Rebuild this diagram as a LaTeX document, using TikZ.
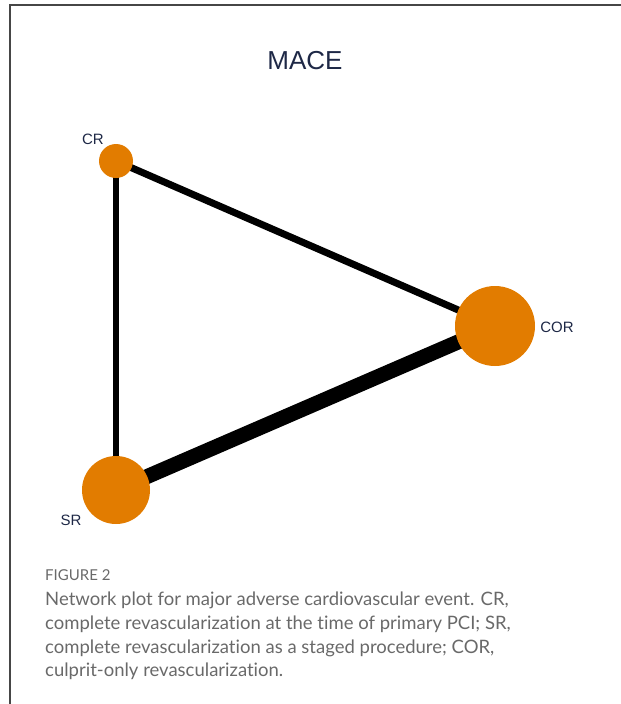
\documentclass[tikz,border=0pt]{standalone}
\usepackage{fontspec}
\setmainfont{Liberation Sans}
\newfontfamily\capfont[Ligatures=NoCommon]{Lato}
\usetikzlibrary{backgrounds}
\definecolor{nodeorange}{RGB}{226,124,0}
\definecolor{navy}{RGB}{30,40,70}
\definecolor{capgray}{RGB}{105,105,105}
\definecolor{framegray}{RGB}{70,70,70}
\begin{document}
\begin{tikzpicture}[x=1pt,y=-1pt,
  trt/.style={circle,fill=nodeorange,draw=none,inner sep=0pt,minimum size=#1},
  lbl/.style={text=navy,font=\fontsize{15}{15}\selectfont,inner sep=0pt},
  edge/.style={black,line width=#1,line cap=butt},
  capline/.style={anchor=base west,inner sep=0pt,text=capgray,font=\capfont\fontsize{18.5}{24}\selectfont}
]
\useasboundingbox (0,0) rectangle (621,704);
\draw[framegray,line width=1.5pt] (10,704) -- (10,5) -- (621,5);

\node[text=navy,font=\fontsize{26}{26}\selectfont,inner sep=0pt] (title) at (305,61) {MACE};

\node[trt=34pt] (cr) at (116,161) {};
\node[trt=68pt] (sr) at (116,490) {};
\node[trt=80pt] (cor) at (495,326) {};

\begin{scope}[on background layer]
\draw[edge=6pt] (cr.center) -- (sr.center);
\draw[edge=7pt] (cr.center) -- (cor.center);
\draw[edge=15pt] (sr.center) -- (cor.center);
\end{scope}

\node[lbl] (crl) at (93,139) {CR};
\node[lbl] (srl) at (71,520) {SR};
\node[lbl] (corl) at (557,327) {COR};

\node[capline,font=\capfont\fontsize{15}{15}\selectfont] (fig) at (45,580) {FIGURE 2};
\node[capline] (c1) at (45,605) {Network plot for major adverse cardiovascular event. CR,};
\node[capline] (c2) at (45,629) {complete revascularization at the time of primary PCI; SR,};
\node[capline] (c3) at (45,653) {complete revascularization as a staged procedure; COR,};
\node[capline] (c4) at (45,676) {culprit-only revascularization.};
\end{tikzpicture}
\end{document}
